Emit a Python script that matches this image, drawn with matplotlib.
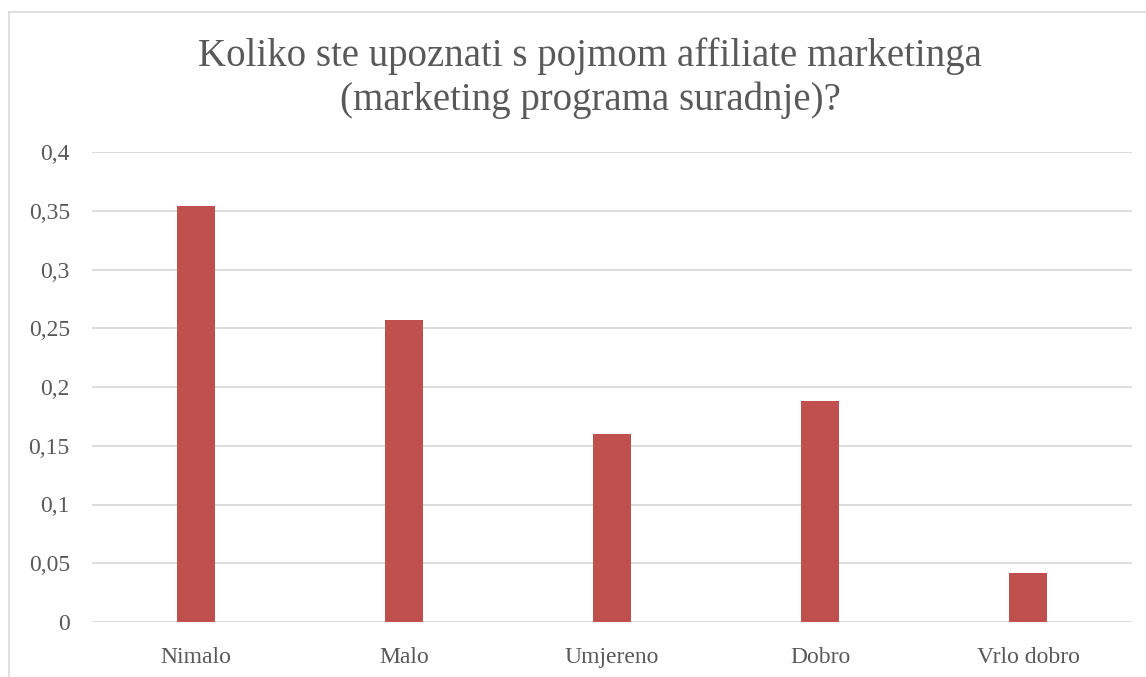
import matplotlib.pyplot as plt
from matplotlib.lines import Line2D
from matplotlib.ticker import FuncFormatter

categories = ["Nimalo", "Malo", "Umjereno", "Dobro", "Vrlo dobro"]
values = [0.354, 0.257, 0.160, 0.188, 0.042]
yticks = [0, 0.05, 0.1, 0.15, 0.2, 0.25, 0.3, 0.35, 0.4]
title = "Koliko ste upoznati s pojmom affiliate marketinga\n(marketing programa suradnje)?"

plt.rcParams['font.family'] = ['Liberation Serif', 'DejaVu Serif']
text_color = "#595959"
grid_color = "#d9d9d9"

W, H = 1146, 677
fig = plt.figure(figsize=(W / 100, H / 100), dpi=100)
ax = fig.add_axes([92 / W, 1 - 622 / H, (1132 - 92) / W, (622 - 152) / H])

x = range(len(categories))
ax.bar(x, values, width=0.18, color="#c0504d", zorder=3)

ax.set_xlim(-0.5, len(categories) - 0.5)
ax.set_ylim(0, 0.4)
ax.set_yticks(yticks)
ax.yaxis.set_major_formatter(FuncFormatter(lambda v, p: ("%g" % v).replace(".", ",")))
ax.set_xticks(list(x))
ax.set_xticklabels(categories)
ax.grid(axis="y", color=grid_color, linewidth=1.3, zorder=0)
for s in ax.spines.values():
    s.set_visible(False)
ax.tick_params(axis="both", length=0, colors=text_color, labelsize=17)
ax.tick_params(axis="y", pad=16)
ax.tick_params(axis="x", pad=18)

fig.text(590 / W, 1 - 78 / H, title, ha="center", va="center", fontsize=28,
         color=text_color, linespacing=1.22)

# outer chart frame (only top and left visible)
fig.add_artist(Line2D([8.5 / W, 8.5 / W], [0, 1 - 11.5 / H], color=grid_color, lw=1.2))
fig.add_artist(Line2D([8.5 / W, 1], [1 - 11.5 / H, 1 - 11.5 / H], color=grid_color, lw=1.2))

fig.savefig("out.png", dpi=100, facecolor="white")
